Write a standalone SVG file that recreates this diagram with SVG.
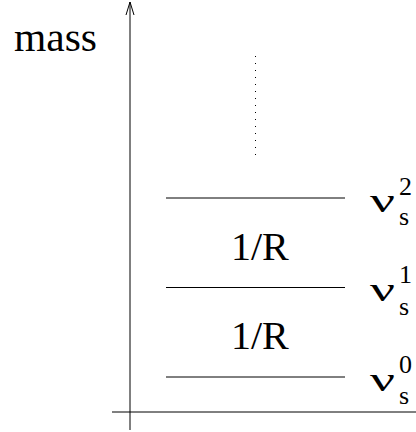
<svg xmlns="http://www.w3.org/2000/svg" width="416" height="432" viewBox="0 0 416 432">
<style>
.ln{stroke:#000;stroke-width:1;fill:none}
text{font-family:'Liberation Serif','Times New Roman',Times,'DejaVu Serif',serif;fill:#000}
.big{font-size:40px}
.nu{font-size:34px}
.sm{font-size:26px}
</style>
<rect width="416" height="432" fill="#fff"/>
<g id="connectors">
<line class="ln" x1="130" y1="2" x2="130" y2="430"/>
<polyline class="ln" points="126,15 130,2 134,15"/>
<line class="ln" x1="112" y1="412" x2="416" y2="412"/>
<line class="ln" x1="255.5" y1="56" x2="255.5" y2="158" stroke-dasharray="1 6"/>
</g>
<g id="axis-label"><text class="big" font-family="Liberation Serif, serif" x="14" y="51" textLength="83" lengthAdjust="spacingAndGlyphs">mass</text></g>
<g id="level2">
<line class="ln" x1="166" y1="198" x2="345" y2="198"/>
<text class="nu" x="370" y="212" textLength="25" lengthAdjust="spacingAndGlyphs">ν</text>
<text class="sm" x="399" y="195">2</text>
<text class="sm" x="399" y="225">s</text>
</g>
<g id="gap1"><text class="big" x="231" y="260">1/R</text></g>
<g id="level1">
<line class="ln" x1="166" y1="287.5" x2="345" y2="287.5"/>
<text class="nu" x="370" y="301" textLength="25" lengthAdjust="spacingAndGlyphs">ν</text>
<text class="sm" x="399" y="283">1</text>
<text class="sm" x="399" y="315">s</text>
</g>
<g id="gap0"><text class="big" x="231" y="349">1/R</text></g>
<g id="level0">
<line class="ln" x1="166" y1="377" x2="345" y2="377"/>
<text class="nu" x="370" y="391" textLength="25" lengthAdjust="spacingAndGlyphs">ν</text>
<text class="sm" x="399" y="373">0</text>
<text class="sm" x="399" y="404">s</text>
</g>
</svg>
